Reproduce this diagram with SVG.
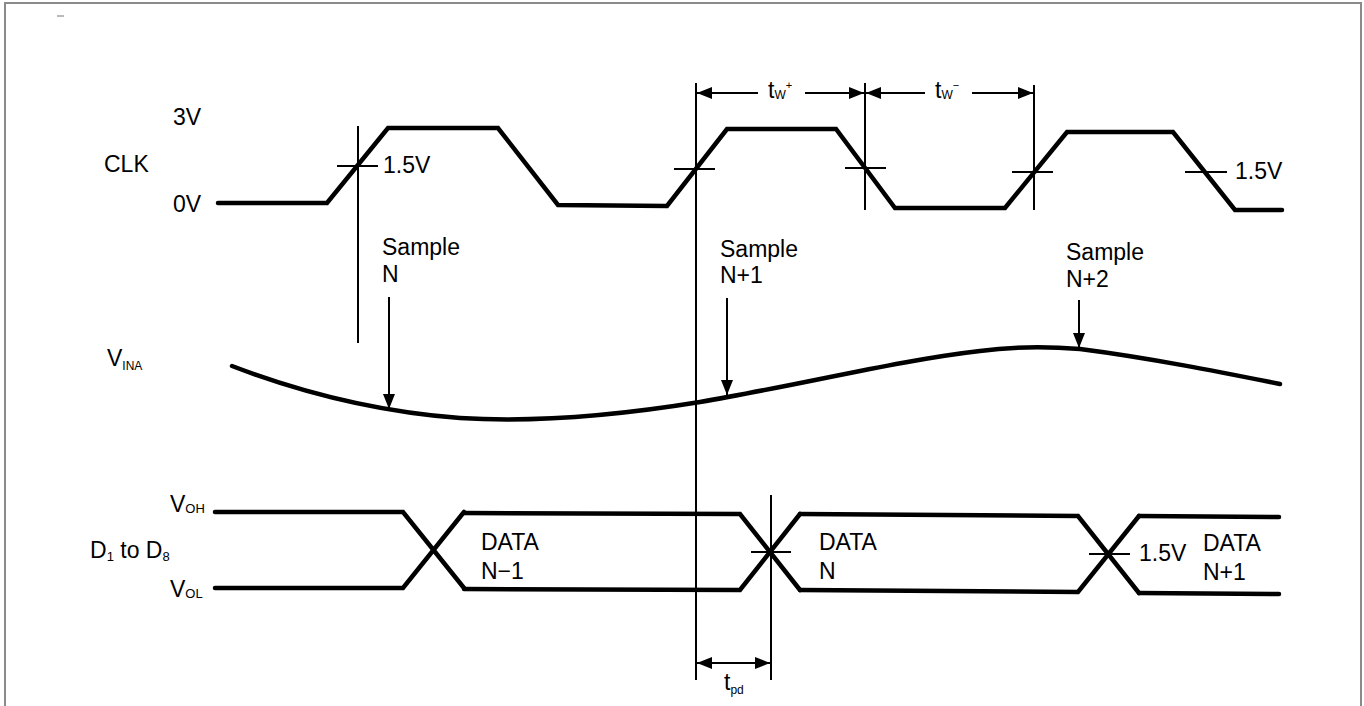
<svg xmlns="http://www.w3.org/2000/svg" width="1364" height="706" viewBox="0 0 1364 706">
<style>
.t{font-family:"Liberation Sans",Arial,sans-serif;font-size:23px;fill:#000}
.w{fill:none;stroke:#000;stroke-width:4.5;stroke-linejoin:miter;stroke-linecap:round}
.n{fill:none;stroke:#000;stroke-width:2}
.fr{fill:none;stroke:#8a8a8a;stroke-width:2}
</style>
<defs>
<marker id="ah" markerUnits="userSpaceOnUse" markerWidth="16" markerHeight="14" refX="15" refY="7" orient="auto-start-reverse" viewBox="0 0 16 14">
<path d="M0,1 L15,7 L0,13 Z" fill="#000"/>
</marker>
</defs>
<rect width="1364" height="706" fill="#fff"/>
<path class="fr" d="M5,706 V3 H1361 V706"/>
<line x1="57" y1="16" x2="64" y2="16" stroke="#777" stroke-width="1"/>

<g id="labels">
<text class="t" x="173" y="125">3V</text>
<text class="t" x="104" y="172">CLK</text>
<text class="t" x="173" y="212">0V</text>
<text class="t" x="107" y="366">V<tspan font-size="12" dy="4">INA</tspan></text>
<text class="t" x="170" y="512">V<tspan font-size="13" dy="1">OH</tspan></text>
<text class="t" x="90" y="558">D<tspan font-size="13" dy="3">1</tspan><tspan dy="-3"> to D</tspan><tspan font-size="13" dy="3">8</tspan></text>
<text class="t" x="170" y="597">V<tspan font-size="13" dy="1">OL</tspan></text>
</g>

<g id="clk">
<path class="w" d="M218,203 L327,203 L388,128 L498,128 L558,205 L667,206 L727,129 L836,129 L895,208 L1005,208 L1067,132 L1173,132 L1235,210 L1282,210"/>
<text class="t" x="383" y="173">1.5V</text>
<text class="t" x="1235" y="179">1.5V</text>
</g>

<g id="vina">
<path class="w" d="M232,366 C300,392 380,412 460,418 C540,423 620,415 700,402 C800,385 900,360 980,351 C1010,347 1040,346 1080,349 C1150,358 1220,372 1280,384"/>
</g>

<g id="data">
<path class="w" d="M215,512 L403,512 L464,588"/>
<path class="w" d="M215,588 L403,588 L464,512"/>
<path class="w" d="M464,513 L740,514 L800,590"/>
<path class="w" d="M464,589 L740,590 L800,514"/>
<path class="w" d="M800,514 L1078,516 L1139,593"/>
<path class="w" d="M800,590 L1078,592 L1139,516"/>
<path class="w" d="M1139,516 L1279,517"/>
<path class="w" d="M1139,593 L1279,594"/>
<text class="t" x="481" y="550">DATA</text>
<text class="t" x="481" y="579">N−1</text>
<text class="t" x="819" y="550">DATA</text>
<text class="t" x="819" y="579">N</text>
<text class="t" x="1139" y="561">1.5V</text>
<text class="t" x="1203" y="551">DATA</text>
<text class="t" x="1203" y="580">N+1</text>
</g>

<g id="samples">
<text class="t" x="382" y="255">Sample</text>
<text class="t" x="382" y="282">N</text>
<text class="t" x="720" y="257">Sample</text>
<text class="t" x="720" y="283">N+1</text>
<text class="t" x="1066" y="260">Sample</text>
<text class="t" x="1066" y="287">N+2</text>
</g>

<g id="connectors">
<line class="n" x1="358" y1="126" x2="358" y2="343"/>
<line class="n" x1="337" y1="166" x2="378" y2="166"/>
<line class="n" x1="696" y1="83" x2="696" y2="680"/>
<line class="n" x1="674" y1="169" x2="715" y2="169"/>
<line class="n" x1="865" y1="83" x2="865" y2="210"/>
<line class="n" x1="845" y1="168" x2="886" y2="168"/>
<line class="n" x1="1034" y1="85" x2="1034" y2="210"/>
<line class="n" x1="1012" y1="172" x2="1053" y2="172"/>
<line class="n" x1="1185" y1="172" x2="1227" y2="172"/>
<line class="n" x1="771" y1="495" x2="771" y2="680"/>
<line class="n" x1="751" y1="552" x2="791" y2="552"/>
<line class="n" x1="1089" y1="554" x2="1130" y2="554"/>
<line class="n" x1="758" y1="93" x2="697" y2="93" marker-end="url(#ah)"/>
<line class="n" x1="805" y1="93" x2="864" y2="93" marker-end="url(#ah)"/>
<text class="t" x="768" y="98">t<tspan font-size="12" dy="1">W</tspan><tspan font-size="11" dy="-10">+</tspan></text>
<line class="n" x1="925" y1="93" x2="866" y2="93" marker-end="url(#ah)"/>
<line class="n" x1="972" y1="93" x2="1033" y2="93" marker-end="url(#ah)"/>
<text class="t" x="935" y="98">t<tspan font-size="12" dy="1">W</tspan><tspan font-size="11" dy="-10">−</tspan></text>
<line class="n" x1="697" y1="663" x2="770" y2="663" marker-start="url(#ah)" marker-end="url(#ah)"/>
<text class="t" x="724" y="690">t<tspan font-size="12" dy="4">pd</tspan></text>
<line class="n" x1="389" y1="297" x2="389" y2="409" marker-end="url(#ah)"/>
<line class="n" x1="727" y1="298" x2="727" y2="395" marker-end="url(#ah)"/>
<line class="n" x1="1079" y1="300" x2="1079" y2="348" marker-end="url(#ah)"/>
</g>
</svg>
